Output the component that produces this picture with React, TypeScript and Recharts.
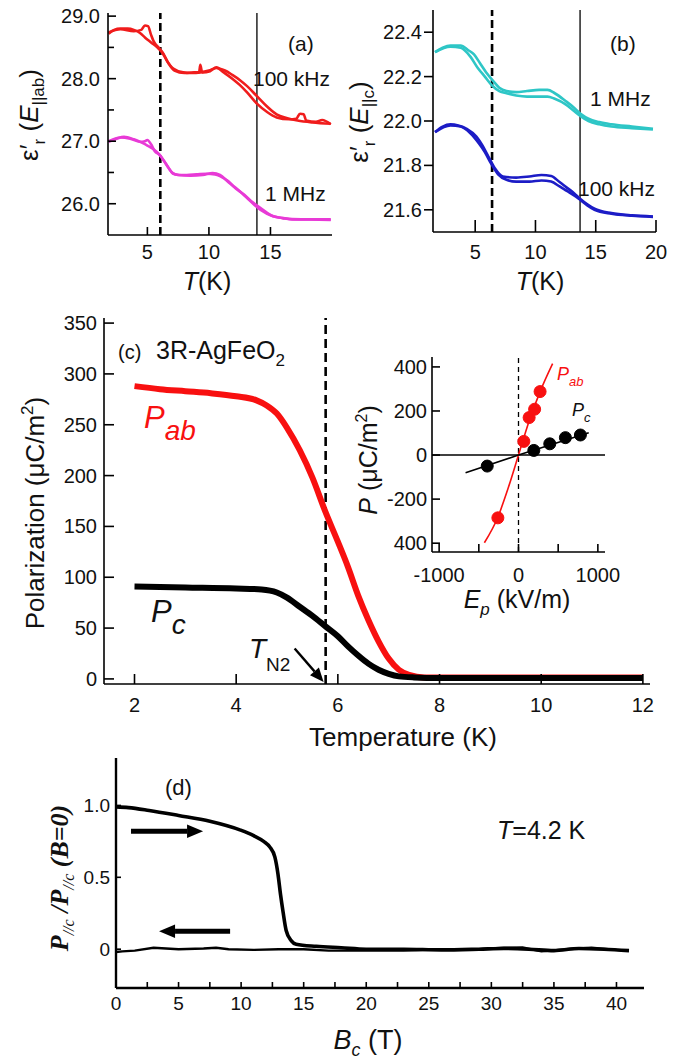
import React from 'react';
import { LineChart, Line, XAxis, YAxis, ReferenceLine } from 'recharts';

const SANS = '"Liberation Sans", Arial, Helvetica, sans-serif';
const SERIF = '"Liberation Serif", "Times New Roman", serif';

// (a) dielectric constant, E || ab, two temperature sweeps per frequency
const ab100kHzA = [
  { t: 1.85, v: 28.72 }, { t: 2.3, v: 28.78 }, { t: 2.8, v: 28.8 }, { t: 3.4, v: 28.8 }, { t: 3.9, v: 28.78 },
  { t: 4.4, v: 28.73 }, { t: 4.8, v: 28.66 }, { t: 5.3, v: 28.58 }, { t: 5.8, v: 28.5 }, { t: 6.2, v: 28.42 },
  { t: 6.6, v: 28.28 }, { t: 7.1, v: 28.16 }, { t: 7.9, v: 28.1 }, { t: 8.6, v: 28.09 }, { t: 9.3, v: 28.1 },
  { t: 10, v: 28.13 }, { t: 10.6, v: 28.17 }, { t: 11.3, v: 28.13 }, { t: 11.9, v: 28.06 }, { t: 12.5, v: 27.98 },
  { t: 13.1, v: 27.88 }, { t: 13.9, v: 27.72 }, { t: 14.7, v: 27.56 }, { t: 15.5, v: 27.43 }, { t: 16.3, v: 27.37 },
  { t: 17.2, v: 27.33 }, { t: 18.4, v: 27.3 }, { t: 19.9, v: 27.28 },
];
const ab100kHzB = [
  { t: 1.85, v: 28.74 }, { t: 2.8, v: 28.79 }, { t: 3.9, v: 28.76 }, { t: 4.5, v: 28.78 }, { t: 4.8, v: 28.85 },
  { t: 5.05, v: 28.84 }, { t: 5.3, v: 28.7 }, { t: 5.5, v: 28.6 }, { t: 5.9, v: 28.5 }, { t: 6.3, v: 28.4 },
  { t: 6.7, v: 28.25 }, { t: 7.2, v: 28.13 }, { t: 8.0, v: 28.09 }, { t: 8.8, v: 28.1 }, { t: 9.2, v: 28.1 },
  { t: 9.3, v: 28.22 }, { t: 9.45, v: 28.1 }, { t: 10.1, v: 28.12 }, { t: 10.6, v: 28.18 }, { t: 11.2, v: 28.1 },
  { t: 11.9, v: 28.0 }, { t: 12.5, v: 27.9 }, { t: 13.1, v: 27.78 }, { t: 13.9, v: 27.6 }, { t: 14.7, v: 27.47 },
  { t: 15.5, v: 27.38 }, { t: 16.5, v: 27.35 }, { t: 17.1, v: 27.36 }, { t: 17.4, v: 27.44 }, { t: 17.7, v: 27.43 },
  { t: 17.9, v: 27.33 }, { t: 18.7, v: 27.31 }, { t: 19.2, v: 27.34 }, { t: 19.9, v: 27.27 },
];
const ab1MHzA = [
  { t: 1.85, v: 26.99 }, { t: 2.5, v: 27.04 }, { t: 3.1, v: 27.07 }, { t: 3.9, v: 27.03 }, { t: 4.5, v: 26.98 },
  { t: 5.0, v: 26.93 }, { t: 5.5, v: 26.87 }, { t: 5.9, v: 26.8 }, { t: 6.3, v: 26.7 }, { t: 6.7, v: 26.58 },
  { t: 7.1, v: 26.48 }, { t: 7.6, v: 26.46 }, { t: 8.2, v: 26.46 }, { t: 9.0, v: 26.47 }, { t: 9.8, v: 26.48 },
  { t: 10.5, v: 26.47 }, { t: 11.0, v: 26.43 }, { t: 11.5, v: 26.37 }, { t: 11.9, v: 26.3 }, { t: 12.5, v: 26.2 },
  { t: 13.1, v: 26.09 }, { t: 13.7, v: 25.98 }, { t: 14.2, v: 25.9 }, { t: 15.2, v: 25.8 }, { t: 16.0, v: 25.77 },
  { t: 16.8, v: 25.75 }, { t: 18.3, v: 25.75 }, { t: 19.9, v: 25.74 },
];
const ab1MHzB = [
  { t: 1.85, v: 27.0 }, { t: 2.8, v: 27.06 }, { t: 3.6, v: 27.04 }, { t: 4.4, v: 26.99 }, { t: 4.8, v: 27.0 },
  { t: 5.0, v: 27.02 }, { t: 5.3, v: 26.95 }, { t: 5.6, v: 26.84 }, { t: 6.0, v: 26.78 }, { t: 6.5, v: 26.64 },
  { t: 7.0, v: 26.5 }, { t: 7.5, v: 26.46 }, { t: 8.5, v: 26.45 }, { t: 9.5, v: 26.46 }, { t: 10.3, v: 26.49 },
  { t: 10.9, v: 26.46 }, { t: 11.5, v: 26.36 }, { t: 12.2, v: 26.24 }, { t: 12.9, v: 26.14 }, { t: 13.5, v: 26.03 },
  { t: 14.2, v: 25.93 }, { t: 15.0, v: 25.82 }, { t: 16.0, v: 25.77 }, { t: 17.5, v: 25.75 }, { t: 19.9, v: 25.75 },
];

// (b) dielectric constant, E || c
const c1MHzA = [
  { t: 1.67, v: 22.31 }, { t: 2.3, v: 22.33 }, { t: 2.95, v: 22.34 }, { t: 3.8, v: 22.34 }, { t: 4.4, v: 22.32 },
  { t: 4.9, v: 22.3 }, { t: 5.4, v: 22.26 }, { t: 5.9, v: 22.22 }, { t: 6.5, v: 22.18 }, { t: 7.0, v: 22.15 },
  { t: 7.6, v: 22.135 }, { t: 8.4, v: 22.13 }, { t: 9.3, v: 22.135 }, { t: 10.3, v: 22.14 }, { t: 11.0, v: 22.14 },
  { t: 11.6, v: 22.125 }, { t: 12.5, v: 22.09 }, { t: 13.2, v: 22.06 }, { t: 13.8, v: 22.03 }, { t: 14.4, v: 22.01 },
  { t: 15.3, v: 21.995 }, { t: 16.3, v: 21.985 }, { t: 18.0, v: 21.975 }, { t: 19.75, v: 21.965 },
];
const c1MHzB = [
  { t: 1.67, v: 22.31 }, { t: 2.95, v: 22.335 }, { t: 3.8, v: 22.33 }, { t: 4.6, v: 22.29 }, { t: 5.2, v: 22.24 },
  { t: 5.8, v: 22.2 }, { t: 6.4, v: 22.16 }, { t: 7.0, v: 22.135 }, { t: 7.6, v: 22.125 }, { t: 8.4, v: 22.115 },
  { t: 9.3, v: 22.11 }, { t: 10.3, v: 22.11 }, { t: 11.0, v: 22.11 }, { t: 11.6, v: 22.1 }, { t: 12.5, v: 22.075 },
  { t: 13.2, v: 22.045 }, { t: 13.8, v: 22.02 }, { t: 14.4, v: 22.0 }, { t: 15.3, v: 21.985 }, { t: 16.3, v: 21.975 },
  { t: 18.0, v: 21.968 }, { t: 19.75, v: 21.962 },
];
const c100kHzA = [
  { t: 1.67, v: 21.95 }, { t: 2.3, v: 21.975 }, { t: 2.95, v: 21.985 }, { t: 3.6, v: 21.98 }, { t: 4.3, v: 21.965 },
  { t: 5.1, v: 21.93 }, { t: 5.6, v: 21.89 }, { t: 6.0, v: 21.85 }, { t: 6.6, v: 21.79 }, { t: 7.3, v: 21.75 },
  { t: 8.4, v: 21.745 }, { t: 9.5, v: 21.75 }, { t: 10.5, v: 21.757 }, { t: 11.3, v: 21.752 }, { t: 12.0, v: 21.725 },
  { t: 12.6, v: 21.7 }, { t: 13.2, v: 21.675 }, { t: 13.7, v: 21.65 }, { t: 14.3, v: 21.625 }, { t: 14.9, v: 21.605 },
  { t: 16.3, v: 21.585 }, { t: 18.0, v: 21.575 }, { t: 19.75, v: 21.57 },
];
const c100kHzB = [
  { t: 1.67, v: 21.95 }, { t: 2.95, v: 21.98 }, { t: 3.8, v: 21.975 }, { t: 4.6, v: 21.945 }, { t: 5.3, v: 21.9 },
  { t: 5.8, v: 21.86 }, { t: 6.3, v: 21.81 }, { t: 6.9, v: 21.76 }, { t: 7.6, v: 21.735 }, { t: 8.4, v: 21.727 },
  { t: 9.5, v: 21.727 }, { t: 10.5, v: 21.732 }, { t: 11.3, v: 21.727 }, { t: 12.0, v: 21.705 }, { t: 12.6, v: 21.685 },
  { t: 13.2, v: 21.665 }, { t: 13.7, v: 21.645 }, { t: 14.3, v: 21.62 }, { t: 14.9, v: 21.6 }, { t: 16.3, v: 21.582 },
  { t: 18.0, v: 21.573 }, { t: 19.75, v: 21.568 },
];

// (c) polarization vs temperature
const pabVsT = [
  { t: 2, p: 288 }, { t: 2.5, p: 285 }, { t: 3, p: 283 }, { t: 3.5, p: 281 }, { t: 4, p: 278 }, { t: 4.4, p: 274 },
  { t: 4.6, p: 269 }, { t: 4.8, p: 261 }, { t: 5.0, p: 247 }, { t: 5.25, p: 225 }, { t: 5.5, p: 198 }, { t: 5.75, p: 165 },
  { t: 6.0, p: 135 }, { t: 6.2, p: 110 }, { t: 6.4, p: 82 }, { t: 6.6, p: 58 }, { t: 6.8, p: 37 }, { t: 7.0, p: 20 },
  { t: 7.2, p: 9 }, { t: 7.4, p: 4 }, { t: 7.7, p: 1.5 }, { t: 8, p: 1.5 }, { t: 9, p: 1.5 }, { t: 10, p: 1.5 },
  { t: 11, p: 1.5 }, { t: 12, p: 1.5 },
];
const pcVsT = [
  { t: 2, p: 91 }, { t: 3, p: 90 }, { t: 4, p: 89 }, { t: 4.5, p: 88 }, { t: 4.8, p: 85 }, { t: 5.0, p: 80 },
  { t: 5.25, p: 71 }, { t: 5.5, p: 62 }, { t: 5.75, p: 52 }, { t: 6.0, p: 42 }, { t: 6.2, p: 32 }, { t: 6.4, p: 23 },
  { t: 6.6, p: 15 }, { t: 6.8, p: 9 }, { t: 7.0, p: 5 }, { t: 7.2, p: 2.5 }, { t: 7.5, p: 1.5 }, { t: 8, p: 1 },
  { t: 10, p: 1 }, { t: 12, p: 1 },
];

// inset: P vs poling field
const pabPoints = [{ e: -260, p: -285 }, { e: 67, p: 62 }, { e: 134, p: 170 }, { e: 203, p: 208 }, { e: 272, p: 288 }];
const pcPoints = [{ e: -394, p: -50 }, { e: 193, p: 21 }, { e: 394, p: 51 }, { e: 591, p: 79 }, { e: 780, p: 91 }];
const pabFit = [
  { e: -430, p: -398 }, { e: -260, p: -282 }, { e: -130, p: -150 }, { e: 0, p: 0 }, { e: 130, p: 150 },
  { e: 272, p: 288 }, { e: 430, p: 415 },
];
const pcFit = [{ e: -667, p: -80 }, { e: 0, p: 0 }, { e: 885, p: 101 }];

// (d) normalized P//c vs field at 4.2 K
const upSweep = [
  { b: 0, r: 0.99 }, { b: 1, r: 0.985 }, { b: 2.65, r: 0.965 }, { b: 5, r: 0.93 }, { b: 7.5, r: 0.89 }, { b: 9.9, r: 0.83 },
  { b: 11, r: 0.79 }, { b: 11.8, r: 0.75 }, { b: 12.3, r: 0.71 }, { b: 12.7, r: 0.64 }, { b: 12.95, r: 0.52 },
  { b: 13.15, r: 0.38 }, { b: 13.35, r: 0.26 }, { b: 13.6, r: 0.13 }, { b: 14.0, r: 0.06 }, { b: 14.4, r: 0.035 },
  { b: 16, r: 0.02 }, { b: 18, r: 0.01 }, { b: 20, r: 0.0 }, { b: 23, r: 0.0 }, { b: 26, r: -0.005 }, { b: 29, r: 0.0 },
  { b: 31, r: 0.005 }, { b: 33, r: 0.0 }, { b: 35, r: -0.01 }, { b: 37, r: 0.005 }, { b: 39, r: 0.0 }, { b: 41, r: -0.01 },
];
const downSweep = [
  { b: 0, r: -0.02 }, { b: 0.5, r: -0.015 }, { b: 1.5, r: -0.01 }, { b: 3, r: 0.01 }, { b: 5, r: 0.0 }, { b: 7, r: 0.005 },
  { b: 8, r: 0.01 }, { b: 9, r: 0.0 }, { b: 11, r: -0.005 }, { b: 13, r: 0.0 }, { b: 15, r: 0.0 }, { b: 17, r: -0.01 },
  { b: 19, r: -0.01 }, { b: 21, r: -0.01 }, { b: 23, r: -0.01 }, { b: 25, r: -0.005 }, { b: 27, r: -0.005 },
  { b: 29, r: 0.0 }, { b: 31, r: 0.01 }, { b: 32.5, r: 0.012 }, { b: 34, r: -0.015 }, { b: 36, r: 0.0 },
  { b: 38, r: 0.01 }, { b: 40, r: -0.005 }, { b: 41, r: -0.01 },
];

const aTicksX = [5, 10, 15];
const aTicksY = [26, 26.5, 27, 27.5, 28, 28.5, 29];
const bTicksX = [5, 10, 15, 20];
const bTicksY = [21.6, 21.8, 22.0, 22.2, 22.4];
const cTicksX = [2, 4, 6, 8, 10, 12];
const cTicksY = [0, 50, 100, 150, 200, 250, 300, 350];
const insetTicksX = [-1000, -500, 0, 500, 1000];
const insetTicksY = [-400, -200, 0, 200, 400];
const dTicksX = [0, 2.5, 5, 7.5, 10, 12.5, 15, 17.5, 20, 22.5, 25, 27.5, 30, 32.5, 35, 37.5, 40];
const dTicksY = [0, 0.5, 1.0];

const line = { stroke: '#000', strokeWidth: 1.6 };
const thick = { stroke: '#000', strokeWidth: 2.4 };

type Side = 'left' | 'right' | 'top' | 'bottom';

// Tick renderer: draws the tick mark itself (positive len = into the plot) and an optional label.
// Axes using it get tickSize 0, so (x, y) is the label anchor and `gap` is its distance from the axis line.
const tickMark = (side: Side, len: number, gap = 0, fmt?: (v: number) => string, size = 20, minorLen?: number) =>
  (props: any) => {
    const { x, y, payload } = props;
    const label = fmt ? fmt(payload.value) : '';
    const l = minorLen !== undefined && label === '' ? minorLen : len;
    let mark: number[];
    if (side === 'left') mark = [x + gap, y, x + gap + l, y];
    else if (side === 'right') mark = [x, y, x - l, y];
    else if (side === 'top') mark = [x, y, x, y + l];
    else mark = [x, y - gap, x, y - gap - l];
    return (
      <g>
        <line x1={mark[0]} y1={mark[1]} x2={mark[2]} y2={mark[3]} stroke="#000" strokeWidth={1.6} />
        {label !== '' && (
          <text x={x} y={y} fontSize={size} fill="#111" fontFamily={SANS}
            textAnchor={side === 'left' ? 'end' : 'middle'} dy={side === 'left' ? '0.35em' : '0.71em'}>
            {label}
          </text>
        )}
      </g>
    );
  };

// arrow drawn from a ReferenceLine segment
const Arrow = (props: any) => {
  const { x1, y1, x2, y2, head = 12, width = 2 } = props;
  const a = Math.atan2(y2 - y1, x2 - x1);
  const hw = head * 0.42;
  const bx = x2 - head * Math.cos(a);
  const by = y2 - head * Math.sin(a);
  const pts = `${x2},${y2} ${bx + hw * Math.sin(a)},${by - hw * Math.cos(a)} ${bx - hw * Math.sin(a)},${by + hw * Math.cos(a)}`;
  return (
    <g>
      <line x1={x1} y1={y1} x2={bx} y2={by} stroke="#000" strokeWidth={width} />
      <polygon points={pts} fill="#000" />
    </g>
  );
};

const box = (left: number, top: number): React.CSSProperties => ({ position: 'absolute', left, top });
const one = (v: number) => v.toFixed(1);

const PanelA = () => (
  <div style={box(0, 0)}>
    <LineChart width={350} height={300} margin={{ top: 13, right: 18, bottom: 0, left: 0 }}>
      <XAxis dataKey="t" type="number" domain={[1.8, 20]} ticks={aTicksX} allowDataOverflow height={65} interval={0}
        tickSize={0} tickMargin={10} axisLine={line} tick={tickMark('bottom', 8, 10, String)} />
      <XAxis xAxisId="top" type="number" orientation="top" height={0} domain={[1.8, 20]} tick={false} tickLine={false} axisLine={line} />
      <YAxis type="number" domain={[25.5, 29.05]} ticks={aTicksY} allowDataOverflow width={108} interval={0}
        tickSize={0} tickMargin={8} axisLine={line}
        tick={tickMark('left', 8, 8, (v) => (Number.isInteger(v) ? one(v) : ''), 20, 6)} />
      <YAxis yAxisId="right" type="number" orientation="right" width={0} domain={[25.5, 29.05]} tick={false} tickLine={false} axisLine={line} />
      <ReferenceLine x={6.05} stroke="#000" strokeWidth={2.6} strokeDasharray="8 4" />
      <ReferenceLine x={13.9} stroke="#000" strokeWidth={1.3} />
      <Line data={ab100kHzA} dataKey="v" type="monotone" stroke="#f01c1c" strokeWidth={2.6} dot={false} isAnimationActive={false} />
      <Line data={ab100kHzB} dataKey="v" type="monotone" stroke="#f01c1c" strokeWidth={2.6} dot={false} isAnimationActive={false} />
      <Line data={ab1MHzA} dataKey="v" type="monotone" stroke="#e83ad6" strokeWidth={2.6} dot={false} isAnimationActive={false} />
      <Line data={ab1MHzB} dataKey="v" type="monotone" stroke="#e83ad6" strokeWidth={2.6} dot={false} isAnimationActive={false} />
    </LineChart>
  </div>
);

const PanelB = () => (
  <div style={box(340, 0)}>
    <LineChart width={353} height={300} margin={{ top: 10, right: 37, bottom: 0, left: 0 }}>
      <XAxis dataKey="t" type="number" domain={[1.5, 20]} ticks={bTicksX} allowDataOverflow height={68} interval={0}
        tickSize={0} tickMargin={13} axisLine={line} tick={tickMark('bottom', 12, 13, String)} />
      <XAxis xAxisId="top" type="number" orientation="top" height={0} domain={[1.5, 20]} tick={false} tickLine={false} axisLine={line} />
      <YAxis type="number" domain={[21.5, 22.5]} ticks={bTicksY} allowDataOverflow width={93} interval={0}
        tickSize={0} tickMargin={11} axisLine={line} tick={tickMark('left', -9, 11, one)} />
      <YAxis yAxisId="right" type="number" orientation="right" width={0} domain={[21.5, 22.5]} tick={false} tickLine={false} axisLine={line} />
      <ReferenceLine x={6.4} stroke="#000" strokeWidth={2.6} strokeDasharray="8 4" />
      <ReferenceLine x={13.7} stroke="#000" strokeWidth={1.3} />
      <Line data={c1MHzA} dataKey="v" type="monotone" stroke="#2ec6c6" strokeWidth={2.6} dot={false} isAnimationActive={false} />
      <Line data={c1MHzB} dataKey="v" type="monotone" stroke="#2ec6c6" strokeWidth={2.6} dot={false} isAnimationActive={false} />
      <Line data={c100kHzA} dataKey="v" type="monotone" stroke="#1c1cc6" strokeWidth={2.6} dot={false} isAnimationActive={false} />
      <Line data={c100kHzB} dataKey="v" type="monotone" stroke="#1c1cc6" strokeWidth={2.6} dot={false} isAnimationActive={false} />
    </LineChart>
  </div>
);

const PanelC = () => (
  <div style={box(0, 300)}>
    <LineChart width={693} height={450} margin={{ top: 18, right: 43, bottom: 0, left: 0 }}>
      <XAxis dataKey="t" type="number" domain={[1.4, 12.14]} ticks={cTicksX} allowDataOverflow height={66} interval={0}
        tickSize={0} tickMargin={14} axisLine={line} tick={tickMark('bottom', 10, 14, String)} />
      <XAxis xAxisId="top" type="number" orientation="top" height={0} domain={[1.4, 12.14]} ticks={cTicksX} interval={0}
        tickSize={0} tickMargin={0} axisLine={line} tick={tickMark('top', 10)} />
      <YAxis type="number" domain={[-5, 355]} ticks={cTicksY} allowDataOverflow width={104} interval={0}
        tickSize={0} tickMargin={7} axisLine={line} tick={tickMark('left', 10, 7, String)} />
      <YAxis yAxisId="right" type="number" orientation="right" width={0} domain={[-5, 355]} ticks={cTicksY} interval={0}
        tickSize={0} tickMargin={0} axisLine={line} tick={tickMark('right', 10)} />
      <ReferenceLine x={5.76} stroke="#000" strokeWidth={2.6} strokeDasharray="9 5" />
      <ReferenceLine segment={[{ x: 5.15, y: 30 }, { x: 5.72, y: -3 }]} shape={(p: any) => <Arrow {...p} head={14} width={2.4} />} />
      <Line data={pabVsT} dataKey="p" type="monotone" stroke="#f81010" strokeWidth={6} dot={false} isAnimationActive={false} />
      <Line data={pcVsT} dataKey="p" type="monotone" stroke="#000" strokeWidth={6} dot={false} isAnimationActive={false} />
    </LineChart>
  </div>
);

const Inset = () => (
  <div style={box(360, 340)}>
    <LineChart width={260} height={280} margin={{ top: 17, right: 15, bottom: 0, left: 0 }}>
      <XAxis dataKey="e" type="number" domain={[-1090, 1090]} ticks={insetTicksX} allowDataOverflow height={68} interval={0}
        tickSize={0} tickMargin={16} axisLine={line}
        tick={tickMark('bottom', 8, 16, (v) => (Math.abs(v) === 500 ? '' : String(v)))} />
      <XAxis xAxisId="top" type="number" orientation="top" height={0} domain={[-1090, 1090]} ticks={insetTicksX} interval={0}
        tickSize={0} tickMargin={0} axisLine={line} tick={tickMark('top', 8)} />
      <YAxis type="number" domain={[-440, 445]} ticks={insetTicksY} allowDataOverflow width={72} interval={0}
        tickSize={0} tickMargin={5} axisLine={line}
        tick={tickMark('left', 8, 5, (v) => String(Math.abs(v) === 400 ? 400 : v))} />
      <YAxis yAxisId="right" type="number" orientation="right" width={0} domain={[-440, 445]} ticks={insetTicksY} interval={0}
        tickSize={0} tickMargin={0} axisLine={line} tick={tickMark('right', 8)} />
      <ReferenceLine x={0} stroke="#000" strokeWidth={1.3} strokeDasharray="5 4" />
      <ReferenceLine y={0} stroke="#000" strokeWidth={1.6} />
      <Line data={pabFit} dataKey="p" type="monotone" stroke="#f81010" strokeWidth={1.6} dot={false} isAnimationActive={false} />
      <Line data={pcFit} dataKey="p" type="linear" stroke="#000" strokeWidth={1.6} dot={false} isAnimationActive={false} />
      <Line data={pabPoints} dataKey="p" stroke="none" dot={{ r: 6, fill: '#f81010', stroke: '#f81010' }} isAnimationActive={false} />
      <Line data={pcPoints} dataKey="p" stroke="none" dot={{ r: 6, fill: '#000', stroke: '#000' }} isAnimationActive={false} />
    </LineChart>
  </div>
);

const PanelD = () => (
  <div style={box(0, 750)}>
    <LineChart width={693} height={311} margin={{ top: 8, right: 49, bottom: 0, left: 0 }}>
      <XAxis dataKey="b" type="number" domain={[0, 42.2]} ticks={dTicksX} allowDataOverflow height={73} interval={0}
        tickSize={0} tickMargin={9} axisLine={thick}
        tick={tickMark('bottom', 6, 9, (v) => (v % 5 === 0 ? String(v) : ''), 19)} />
      <XAxis xAxisId="top" type="number" orientation="top" height={0} domain={[0, 42.2]} ticks={dTicksX} interval={0}
        tickSize={0} tickMargin={0} axisLine={thick} tick={tickMark('top', 6)} />
      <YAxis type="number" domain={[-0.27, 1.33]} ticks={dTicksY} allowDataOverflow width={116} interval={0}
        tickSize={0} tickMargin={6} axisLine={thick}
        tick={tickMark('left', 5, 6, (v) => (v === 0 ? '0' : one(v)), 19)} />
      <YAxis yAxisId="right" type="number" orientation="right" width={0} domain={[-0.27, 1.33]} ticks={dTicksY} interval={0}
        tickSize={0} tickMargin={0} axisLine={thick} tick={tickMark('right', 7)} />
      <ReferenceLine segment={[{ x: 1.2, y: 0.82 }, { x: 6.96, y: 0.82 }]} shape={(p: any) => <Arrow {...p} head={16} width={5} />} />
      <ReferenceLine segment={[{ x: 9.12, y: 0.125 }, { x: 3.44, y: 0.125 }]} shape={(p: any) => <Arrow {...p} head={16} width={5} />} />
      <Line data={downSweep} dataKey="r" type="linear" stroke="#000" strokeWidth={2.4} dot={false} isAnimationActive={false} />
      <Line data={upSweep} dataKey="r" type="monotone" stroke="#000" strokeWidth={3.6} dot={false} isAnimationActive={false} />
    </LineChart>
  </div>
);

// axis titles and in-plot captions
const Captions = () => (
  <svg width={693} height={1061} style={{ position: 'absolute', left: 0, top: 0, pointerEvents: 'none' }} fontFamily={SANS} fill="#111">
    {/* (a) */}
    <text transform="translate(38,115) rotate(-90)" textAnchor="middle" fontSize={26}>
      ε′<tspan fontSize={17} dy={7}>r</tspan>
      <tspan dy={-7}> (</tspan><tspan fontStyle="italic">E</tspan>
      <tspan fontSize={17} dy={6}>||ab</tspan><tspan dy={-6}>)</tspan>
    </text>
    <text x={207} y={290} textAnchor="middle" fontSize={25}><tspan fontStyle="italic">T</tspan>(K)</text>
    <text x={288} y={51} fontSize={21}>(a)</text>
    <text x={253} y={86} fontSize={21}>100 kHz</text>
    <text x={265} y={201} fontSize={21}>1 MHz</text>

    {/* (b) */}
    <text transform="translate(368,122) rotate(-90)" textAnchor="middle" fontSize={26}>
      ε′<tspan fontSize={17} dy={7}>r</tspan>
      <tspan dy={-7}> (</tspan><tspan fontStyle="italic">E</tspan>
      <tspan fontSize={17} dy={6}>||c</tspan><tspan dy={-6}>)</tspan>
    </text>
    <text x={540} y={290} textAnchor="middle" fontSize={25}><tspan fontStyle="italic">T</tspan>(K)</text>
    <text x={610} y={51} fontSize={21}>(b)</text>
    <text x={590} y={106} fontSize={21}>1 MHz</text>
    <text x={578} y={196} fontSize={21}>100 kHz</text>

    {/* (c) */}
    <text transform="translate(44,513) rotate(-90)" textAnchor="middle" fontSize={26}>
      Polarization (μC/m<tspan fontSize={17} dy={-11}>2</tspan><tspan dy={11}>)</tspan>
    </text>
    <text x={403} y={746} textAnchor="middle" fontSize={26}>Temperature (K)</text>
    <text x={118} y={359} fontSize={20}>(c)</text>
    <text x={156} y={359} fontSize={25}>3R-AgFeO<tspan fontSize={17} dy={7}>2</tspan></text>
    <text x={144} y={428} fontSize={31} fill="#f81010" fontStyle="italic">P<tspan fontSize={28} dy={12}>ab</tspan></text>
    <text x={151} y={622} fontSize={31} fontStyle="italic">P<tspan fontSize={28} dy={12}>c</tspan></text>
    <text x={249} y={658} fontSize={28} fontStyle="italic">T<tspan fontSize={19} fontStyle="normal" dy={13}>N2</tspan></text>

    {/* inset */}
    <text transform="translate(377,460) rotate(-90)" textAnchor="middle" fontSize={25}>
      <tspan fontStyle="italic">P</tspan> (μC/m<tspan fontSize={16} dy={-10}>2</tspan><tspan dy={10}>)</tspan>
    </text>
    <text x={517} y={608} textAnchor="middle" fontSize={25}>
      <tspan fontStyle="italic">E</tspan><tspan fontSize={17} fontStyle="italic" dy={7}>p</tspan><tspan dy={-7}> (kV/m)</tspan>
    </text>
    <text x={557} y={380} fontSize={18} fill="#f81010" fontStyle="italic">P<tspan fontSize={13} dy={6}>ab</tspan></text>
    <text x={572} y={416} fontSize={18} fontStyle="italic">P<tspan fontSize={13} dy={6}>c</tspan></text>

    {/* (d) */}
    <text transform="translate(68,878) rotate(-90)" textAnchor="middle" fontSize={26} fontFamily={SERIF}
      fontStyle="italic" fontWeight="bold">
      P<tspan fontSize={16} dy={6} fontWeight="normal">//c</tspan>
      <tspan dy={-6}> /P</tspan><tspan fontSize={16} dy={6} fontWeight="normal">//c</tspan>
      <tspan dy={-6}> (B=0)</tspan>
    </text>
    <text x={368} y={1049} textAnchor="middle" fontSize={27}>
      <tspan fontStyle="italic">B</tspan><tspan fontSize={18} fontStyle="italic" dy={7}>c</tspan><tspan dy={-7}> (T)</tspan>
    </text>
    <text x={165} y={795} fontSize={22}>(d)</text>
    <text x={497} y={839} fontSize={25}><tspan fontStyle="italic">T</tspan>=4.2 K</text>
  </svg>
);

export default function App() {
  return (
    <div style={{ position: 'absolute', left: 0, top: 0, width: 693, height: 1061, background: '#fff' }}>
      <PanelA />
      <PanelB />
      <PanelC />
      <Inset />
      <PanelD />
      <Captions />
    </div>
  );
}
